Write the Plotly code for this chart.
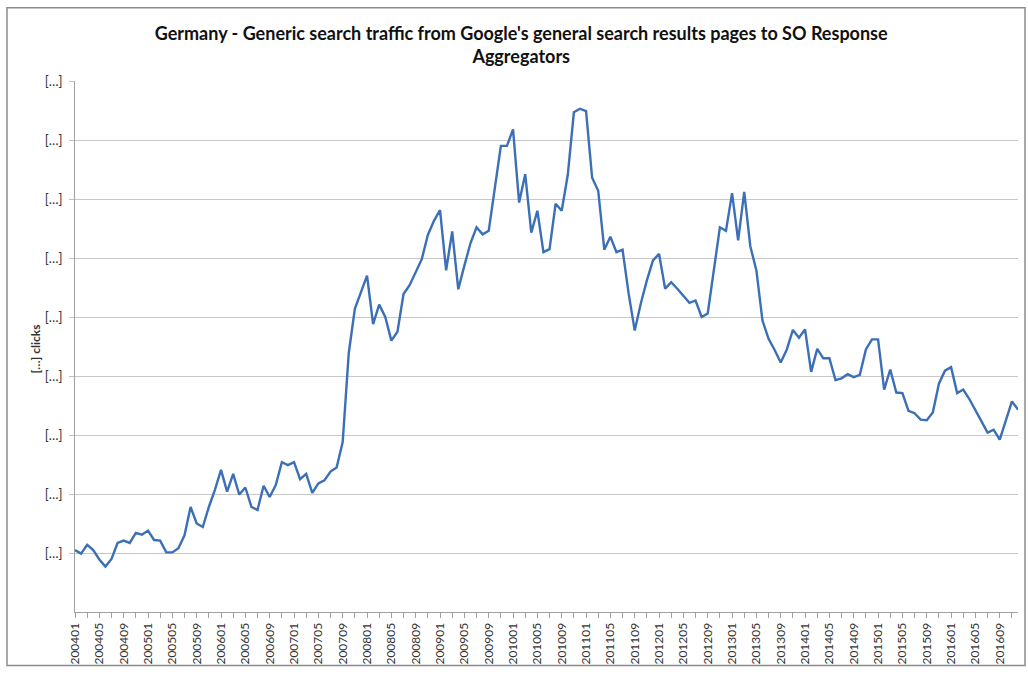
import plotly.graph_objects as go

# monthly labels 200401 .. 201612
months = [f"{y}{m:02d}" for y in range(2004, 2017) for m in range(1, 13)]

# clicks, in units of one gridline step (real values are redacted in the source)
clicks = [
    1.05, 0.99, 1.14, 1.05, 0.89, 0.77, 0.90, 1.17, 1.21, 1.17, 1.34, 1.31,
    1.38, 1.22, 1.21, 1.01, 1.01, 1.08, 1.30, 1.78, 1.50, 1.44, 1.78, 2.07,
    2.41, 2.04, 2.34, 1.99, 2.11, 1.78, 1.73, 2.14, 1.95, 2.15, 2.54, 2.49,
    2.54, 2.25, 2.34, 2.02, 2.18, 2.23, 2.38, 2.45, 2.88, 4.39, 5.14, 5.42,
    5.70, 4.88, 5.21, 5.00, 4.60, 4.75, 5.39, 5.54, 5.75, 5.98, 6.39, 6.63,
    6.81, 5.79, 6.45, 5.47, 5.87, 6.25, 6.52, 6.40, 6.46, 7.19, 7.90, 7.90,
    8.18, 6.94, 7.42, 6.43, 6.80, 6.10, 6.15, 6.92, 6.80, 7.41, 8.47, 8.53,
    8.49, 7.36, 7.14, 6.14, 6.36, 6.10, 6.14, 5.40, 4.77, 5.23, 5.62, 5.96,
    6.07, 5.48, 5.59, 5.48, 5.36, 5.24, 5.28, 5.00, 5.06, 5.78, 6.52, 6.46,
    7.10, 6.30, 7.12, 6.20, 5.79, 4.94, 4.63, 4.44, 4.23, 4.45, 4.78, 4.65,
    4.79, 4.07, 4.46, 4.30, 4.30, 3.93, 3.96, 4.03, 3.98, 4.02, 4.45, 4.62,
    4.62, 3.77, 4.11, 3.72, 3.71, 3.41, 3.37, 3.26, 3.25, 3.38, 3.87, 4.09,
    4.15, 3.71, 3.77, 3.61, 3.43, 3.23, 3.04, 3.09, 2.92, 3.25, 3.57, 3.43,
]

y_levels = [1, 2, 3, 4, 5, 6, 7, 8, 9]
y_labels = ["[…]"] * len(y_levels)

x_idx = list(range(len(months)))
font = "Lato, 'Open Sans', sans-serif"

fig = go.Figure()
fig.add_trace(go.Scatter(
    x=x_idx, y=clicks, mode="lines",
    line=dict(color="#3b6fb6", width=2.4),
    hoverinfo="skip", showlegend=False,
))

L, R, T, B = 75, 10, 81, 58
W, H = 1028 - L - R, 675 - T - B

fig.update_layout(
    width=1028, height=675,
    margin=dict(l=L, r=R, t=T, b=B),
    paper_bgcolor="white", plot_bgcolor="white",
    font=dict(family=font, color="#333333"),
    title=dict(
        text="<b>Germany - Generic search traffic from Google's general search results pages to SO Response<br>Aggregators</b>",
        x=0.507, xref="container", xanchor="center",
        y=1 - 40 / 675, yref="container", yanchor="middle",
        font=dict(size=18, color="#111111", family=font),
    ),
    xaxis=dict(
        range=[0, len(months) - 1],
        tickmode="array", tickvals=x_idx[::4], ticktext=months[::4],
        tickangle=-90, tickfont=dict(size=12, color="#333333"),
        ticks="outside", ticklen=5, tickcolor="#a0a0a0",
        minor=dict(dtick=2, tick0=0, ticks="outside", ticklen=5, tickcolor="#a0a0a0", showgrid=False),
        showline=True, linecolor="#a0a0a0", linewidth=1,
        showgrid=False, zeroline=False,
    ),
    yaxis=dict(
        range=[0, 9],
        tickmode="array", tickvals=y_levels, ticktext=y_labels,
        tickfont=dict(size=13, color="#333333"),
        ticks="outside", ticklen=5, tickcolor="#c0c0c0", ticklabelstandoff=4,
        showline=True, linecolor="#a0a0a0", linewidth=1,
        showgrid=True, gridcolor="#c8c8c8", gridwidth=1, zeroline=False,
    ),
    annotations=[dict(
        text="<b>[…] clicks</b>", textangle=-90,
        xref="paper", yref="paper", x=(35 - L) / W, y=(617 - 352) / H,
        xanchor="center", yanchor="middle", showarrow=False,
        font=dict(size=12, color="#333333", family=font),
    )],
    shapes=[dict(
        type="rect", xref="paper", yref="paper",
        x0=(7 - L) / W, x1=(1025 - L) / W, y0=(617 - 671) / H, y1=(617 - 7) / H,
        line=dict(color="#8c8c8c", width=1.5), fillcolor="rgba(0,0,0,0)", layer="below",
    )],
)

fig.write_html("out.html", config={"displayModeBar": False},
               post_script="document.body.style.margin='0';")
